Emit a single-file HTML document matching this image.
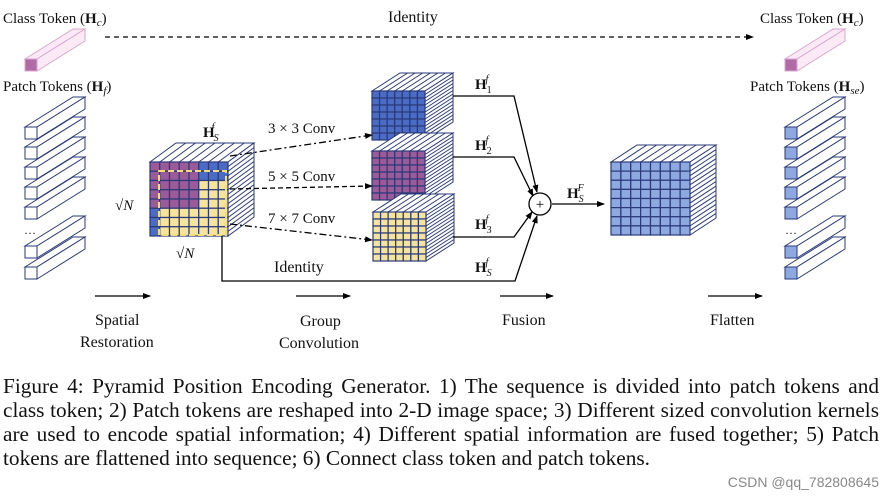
<!DOCTYPE html>
<html><head><meta charset="utf-8"><style>
body{margin:0;background:#fff;width:887px;height:500px;overflow:hidden;font-family:"Liberation Serif",serif;}
svg{position:absolute;left:0;top:0}
.cap{position:absolute;left:3px;top:374px;width:876px;font-size:21.3px;line-height:24px;color:#111;font-family:"Liberation Serif",serif;}
.cap div{text-align:justify;text-align-last:justify;white-space:nowrap;}
.cap div.l{text-align-last:left;}
.wm{position:absolute;right:8px;top:474px;font-size:14px;color:#888;font-family:"Liberation Sans","Noto Sans CJK SC",sans-serif;}
</style></head><body>
<svg id="s" width="887" height="500" xmlns="http://www.w3.org/2000/svg" font-family="Liberation Serif, serif">
<defs>
<marker id="a" markerWidth="8" markerHeight="8" refX="7" refY="4" orient="auto" markerUnits="userSpaceOnUse"><path d="M0,1 L8,4 L0,7 Z" fill="#000"/></marker>
</defs>
<g id="g"></g>
<g font-size="15" fill="#111">
<text x="3" y="23">Class Token (<tspan font-weight="bold">H</tspan><tspan font-style="italic" font-size="11" dy="3">c</tspan><tspan dy="-3">)</tspan></text>
<text x="3" y="91">Patch Tokens (<tspan font-weight="bold">H</tspan><tspan font-style="italic" font-size="11" dy="3">f</tspan><tspan dy="-3">)</tspan></text>
<text x="760" y="23">Class Token (<tspan font-weight="bold">H</tspan><tspan font-style="italic" font-size="11" dy="3">c</tspan><tspan dy="-3">)</tspan></text>
<text x="750" y="91">Patch Tokens (<tspan font-weight="bold">H</tspan><tspan font-style="italic" font-size="11" dy="3">se</tspan><tspan dy="-3">)</tspan></text>
<text x="388" y="22" font-size="16">Identity</text>
<text x="268" y="133">3 × 3 Conv</text>
<text x="268" y="181">5 × 5 Conv</text>
<text x="268" y="223">7 × 7 Conv</text>
<text x="274" y="272" font-size="16">Identity</text>
<text x="115" y="210" font-size="15">√<tspan font-style="italic">N</tspan></text>
<text x="176" y="258" font-size="15">√<tspan font-style="italic">N</tspan></text>
<text x="24" y="234" font-size="12">…</text>
<text x="785" y="234" font-size="12">…</text>
<g font-weight="bold">
<text x="203" y="137">H<tspan font-size="10" font-style="italic" font-weight="normal" dy="4" dx="-1">S</tspan><tspan font-size="10" font-style="italic" font-weight="normal" dx="-7" dy="-11">f</tspan></text>
<text x="475" y="89">H<tspan font-size="10" font-weight="normal" dy="4">1</tspan><tspan font-size="10" font-style="italic" font-weight="normal" dx="-6" dy="-11">f</tspan></text>
<text x="475" y="150">H<tspan font-size="10" font-weight="normal" dy="4">2</tspan><tspan font-size="10" font-style="italic" font-weight="normal" dx="-6" dy="-11">f</tspan></text>
<text x="475" y="229">H<tspan font-size="10" font-weight="normal" dy="4">3</tspan><tspan font-size="10" font-style="italic" font-weight="normal" dx="-6" dy="-11">f</tspan></text>
<text x="475" y="272">H<tspan font-size="10" font-style="italic" font-weight="normal" dy="4">S</tspan><tspan font-size="10" font-style="italic" font-weight="normal" dx="-6" dy="-11">f</tspan></text>
<text x="567" y="198">H<tspan font-size="10" font-style="italic" font-weight="normal" dy="4">S</tspan><tspan font-size="10" font-style="italic" font-weight="normal" dx="-6" dy="-11">F</tspan></text>
</g>
<text x="95" y="325" font-size="16">Spatial</text>
<text x="80" y="347" font-size="16">Restoration</text>
<text x="300" y="326" font-size="16">Group</text>
<text x="279" y="348" font-size="16">Convolution</text>
<text x="502" y="325" font-size="16">Fusion</text>
<text x="710" y="325" font-size="16">Flatten</text>
</g>
<g stroke="#000" stroke-width="1.3" fill="none">
<line x1="105" y1="37" x2="753" y2="37" stroke-dasharray="5,4" marker-end="url(#a)"/>
<line x1="95" y1="296" x2="150" y2="296" marker-end="url(#a)"/>
<line x1="296" y1="296" x2="350" y2="296" marker-end="url(#a)"/>
<line x1="500" y1="296" x2="553" y2="296" marker-end="url(#a)"/>
<line x1="708" y1="296" x2="762" y2="296" marker-end="url(#a)"/>
<line x1="230" y1="156" x2="372" y2="135" stroke-dasharray="7,3,2,3" marker-end="url(#a)"/>
<line x1="230" y1="189" x2="372" y2="186" stroke-dasharray="5,3" marker-end="url(#a)"/>
<line x1="230" y1="224" x2="372" y2="240" stroke-dasharray="7,3,2,3" marker-end="url(#a)"/>
<polyline points="222,236 222,281 515,281 537,216" marker-end="url(#a)"/>
<polyline points="453,96 514,96 537,192" marker-end="url(#a)"/>
<polyline points="453,157 514,157 533,196" marker-end="url(#a)"/>
<polyline points="453,237 514,237 532,212" marker-end="url(#a)"/>
<circle cx="540" cy="204" r="11" fill="#fff"/>
<line x1="552" y1="204" x2="604" y2="204" marker-end="url(#a)"/>
</g>
<text x="540" y="209" font-size="15" text-anchor="middle">+</text>
</svg>
<div class="cap">
<div>Figure 4: Pyramid Position Encoding Generator. 1) The sequence is divided into patch tokens and</div>
<div>class token; 2) Patch tokens are reshaped into 2-D image space; 3) Different sized convolution kernels</div>
<div>are used to encode spatial information; 4) Different spatial information are fused together; 5) Patch</div>
<div class="l">tokens are flattened into sequence; 6) Connect class token and patch tokens.</div>
</div>
<div class="wm">CSDN @qq_782808645</div>
<script>
var g=document.getElementById('g'),NS='http://www.w3.org/2000/svg';
function el(t,a){var e=document.createElementNS(NS,t);for(var k in a)e.setAttribute(k,a[k]);g.appendChild(e);return e;}
var ST='#2a3a7a';
function cube(x,y,w,h,n,dx,dy,col){
 el('polygon',{points:[x,y,x+dx,y-dy,x+w+dx,y-dy,x+w,y].join(' '),fill:'#fff',stroke:ST,'stroke-width':1});
 for(var i=1;i<n;i++){var xx=x+w*i/n;el('line',{x1:xx,y1:y,x2:xx+dx,y2:y-dy,stroke:ST,'stroke-width':1});}
 el('polygon',{points:[x+w,y,x+w+dx,y-dy,x+w+dx,y+h-dy,x+w,y+h].join(' '),fill:'#fff',stroke:ST,'stroke-width':1});
 var m=n*2;for(var i=1;i<m;i++){var yy=y+h*i/m;el('line',{x1:x+w,y1:yy,x2:x+w+dx,y2:yy-dy,stroke:ST,'stroke-width':1});}
 var c=w/n,r=h/n;
 for(var i=0;i<n;i++)for(var j=0;j<n;j++)el('rect',{x:x+j*c,y:y+i*r,width:c,height:r,fill:col(i,j),stroke:ST,'stroke-width':1.2});
}
var B='#4b6cc4',P='#9a5b98',Y='#f6e39c',L='#8ea8e0';
cube(150,162,78,74,8,26,19,function(i,j){if(i<2&&j>=5)return B;if(i<5&&j<5)return P;if(i>=5&&j==0)return B;return Y;});
el('rect',{x:159,y:171,width:67,height:64,fill:'none',stroke:'#f3dc7a','stroke-width':2,'stroke-dasharray':'6,3'});
cube(372,91,53,49,7,28,18,function(){return B;});
cube(372,151,53,49,7,28,18,function(){return P;});
cube(373,212,53,49,7,28,18,function(){return Y;});
cube(611,162,79,73,8,26,17,function(){return L;});
function bar(x,y,fill,bfill,stroke){
 var s=12,dx=48,dy=30;
 el('polygon',{points:[x,y,x+dx,y-dy,x+dx+s,y-dy,x+s,y].join(' '),fill:bfill,stroke:stroke,'stroke-width':1});
 el('polygon',{points:[x+s,y,x+dx+s,y-dy,x+dx+s,y-dy+s,x+s,y+s].join(' '),fill:bfill,stroke:stroke,'stroke-width':1});
 el('rect',{x:x,y:y,width:s,height:s,fill:fill,stroke:stroke,'stroke-width':1});
}
bar(25,59,'#b06aa6','#fbeaf6','#d9a6cf');
bar(785,59,'#b06aa6','#fbeaf6','#d9a6cf');
[127,147,167,187,207,246,267].forEach(function(y){bar(25,y,'#fff','#fff',ST);bar(785,y,L,'#fff',ST);});
</script>
</body></html>
